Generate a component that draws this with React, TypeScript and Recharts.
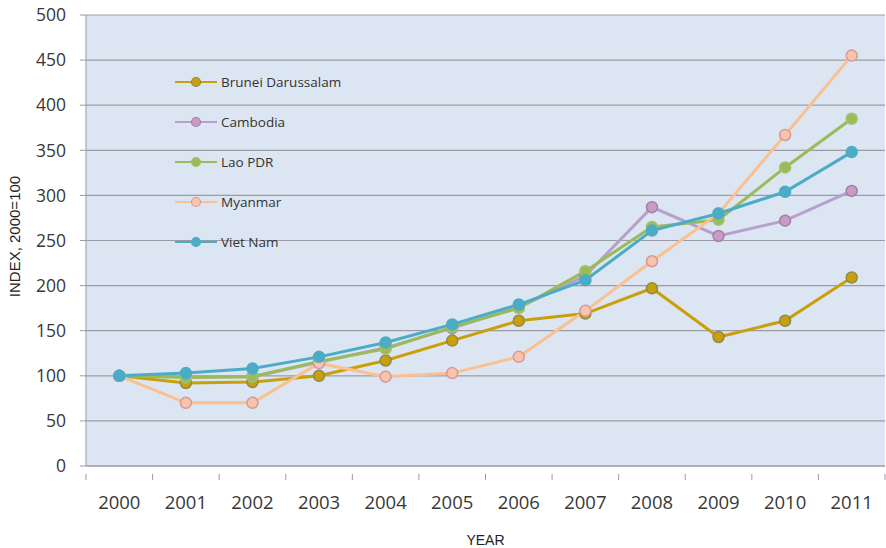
import { CartesianGrid, Label, Line, LineChart, XAxis, YAxis } from 'recharts'

const YEARS = ['2000', '2001', '2002', '2003', '2004', '2005', '2006', '2007', '2008', '2009', '2010', '2011']

const BRUNEI = [100, 92, 93, 100, 117, 139, 161, 169, 197, 143, 161, 209]
const CAMBODIA = [100, 99, 99, 115, 131, 153, 176, 211, 287, 255, 272, 305]
const LAO = [100, 98, 99, 116, 130, 154, 175, 216, 265, 273, 331, 385]
const MYANMAR = [100, 70, 70, 114, 99, 103, 121, 172, 227, 280, 367, 455]
const VIETNAM = [100, 103, 108, 121, 137, 157, 179, 206, 261, 280, 304, 348]

const Y_TICKS = [0, 50, 100, 150, 200, 250, 300, 350, 400, 450, 500]

const SERIES = [
  { key: 'brunei', name: 'Brunei Darussalam', values: BRUNEI, line: '#c9a00c', fill: '#c9a00c', dot: '#8f8a4a' },
  { key: 'cambodia', name: 'Cambodia', values: CAMBODIA, line: '#b8a0cc', fill: '#c99ac6', dot: '#a47fa8' },
  { key: 'lao', name: 'Lao PDR', values: LAO, line: '#9bbb59', fill: '#9bbb59', dot: '#a3c36a' },
  { key: 'myanmar', name: 'Myanmar', values: MYANMAR, line: '#fac090', fill: '#f8c4ac', dot: '#d4999a' },
  { key: 'vietnam', name: 'Viet Nam', values: VIETNAM, line: '#4bacc6', fill: '#4bacc6', dot: '#4bacc6' },
]

const data = YEARS.map((year, i) => {
  const row: Record<string, string | number> = { year }
  SERIES.forEach((s) => {
    row[s.key] = s.values[i]
  })
  return row
})

const W = 886
const H = 548
const LEFT = 86
const RIGHT_MARGIN = 1
const HALF = (W - LEFT - RIGHT_MARGIN) / YEARS.length / 2

const font = "'Open Sans', 'Noto Sans', sans-serif"
const textColor = '#383838'
const axisColor = '#9b9ba3'

function YearTick(props: any) {
  const { x, y, payload, index } = props
  const last = index === YEARS.length - 1
  return (
    <g>
      <line x1={x - HALF} x2={x - HALF} y1={y} y2={y + 6} stroke={axisColor} />
      {last ? <line x1={x + HALF} x2={x + HALF} y1={y} y2={y + 6} stroke={axisColor} /> : null}
      <text x={x} y={y + 35} textAnchor="middle" fill={textColor} fontSize={18.5} fontFamily={font}>
        {payload.value}
      </text>
    </g>
  )
}

function LegendBox() {
  return (
    <div style={{ position: 'absolute', left: 175, top: 62, pointerEvents: 'none' }}>
      {SERIES.map((s) => (
        <div key={s.key} style={{ display: 'flex', alignItems: 'center', height: 40 }}>
          <svg width={46} height={14}>
            <line x1={0} x2={42} y1={7} y2={7} stroke={s.line} strokeWidth={2} />
            <circle cx={21} cy={7} r={4.5} fill={s.fill} stroke={s.dot} strokeWidth={1.2} />
          </svg>
          <span style={{ fontFamily: font, fontSize: 13.5, color: '#333' }}>{s.name}</span>
        </div>
      ))}
    </div>
  )
}

export default function App() {
  return (
    <div style={{ position: 'absolute', left: 0, top: 0, width: W, height: H, background: '#fff' }}>
      <LineChart width={W} height={H} data={data} margin={{ top: 15, right: RIGHT_MARGIN, left: 0, bottom: 0 }}>
        <CartesianGrid vertical={false} fill="#dce6f2" stroke={axisColor} strokeWidth={1.2} fillOpacity={1} />
        <XAxis
          dataKey="year"
          height={82}
          padding={{ left: HALF, right: HALF }}
          stroke={axisColor}
          tickLine={false}
          tick={<YearTick />}
          interval={0}
        >
          <Label
            value="YEAR"
            position="insideBottom"
            offset={3}
            style={{ fontFamily: "'Liberation Sans', Arial, sans-serif", fontSize: 14, fill: '#222' }}
          />
        </XAxis>
        <YAxis
          width={LEFT}
          domain={[0, 500]}
          ticks={Y_TICKS}
          interval={0}
          stroke={axisColor}
          tickSize={6}
          tickMargin={14}
          tick={{ fill: textColor, fontSize: 17.5, fontFamily: font }}
        >
          <Label
            content={(p: any) => {
              const vb = p.viewBox
              const cy = vb.y + vb.height / 2 - 4
              return (
                <text
                  x={14}
                  y={cy}
                  transform={`rotate(-90 14 ${cy})`}
                  textAnchor="middle"
                  dominantBaseline="central"
                  fill="#222"
                  fontSize={15}
                  fontFamily="'Liberation Sans', Arial, sans-serif"
                >
                  INDEX, 2000=100
                </text>
              )
            }}
          />
        </YAxis>
        {SERIES.map((s) => (
          <Line
            key={s.key}
            dataKey={s.key}
            name={s.name}
            type="linear"
            stroke={s.line}
            strokeWidth={3}
            dot={{ r: 5.5, fill: s.fill, stroke: s.dot, strokeWidth: 1.5 }}
            activeDot={false}
            isAnimationActive={false}
          />
        ))}
      </LineChart>
      <LegendBox />
    </div>
  )
}
